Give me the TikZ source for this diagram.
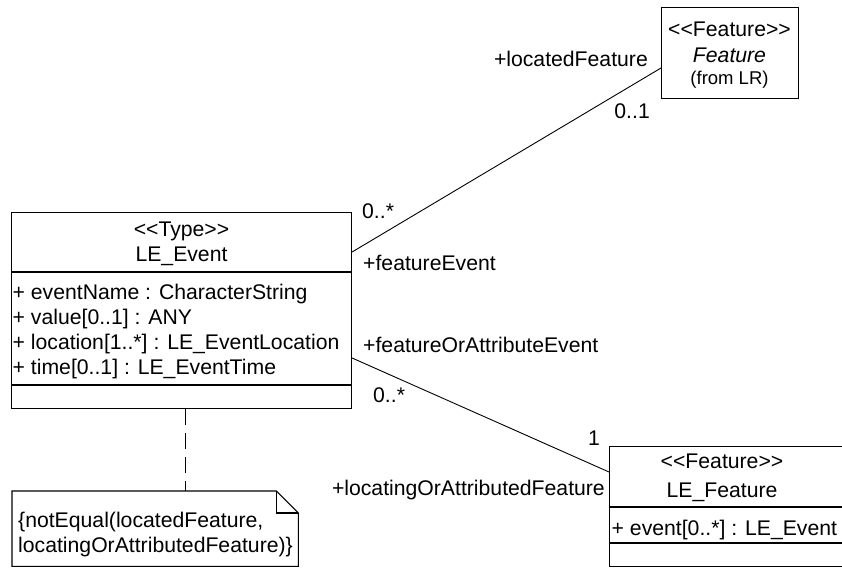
\documentclass[tikz,border=0pt]{standalone}
\usepackage{fontspec}
\setmainfont{Liberation Sans}[Ligatures=TeXOff]
\begin{document}
\begin{tikzpicture}[x=1pt,y=1pt,
  font=\fontsize{21.2}{25}\selectfont,
  box/.style={draw, rectangle, inner sep=0pt, anchor=north west, line width=1.1pt},
  sep/.style={line width=1.1pt},
  ctr/.style={inner sep=0pt, anchor=base},
  lbl/.style={inner sep=0pt, anchor=base west},
  lblr/.style={inner sep=0pt, anchor=base east},
  conn/.style={line width=0.9pt},
  dashline/.style={line width=1pt, dash pattern=on 16pt off 8pt}]
\useasboundingbox (0,0) rectangle (842,-567);
\clip (0,0) rectangle (842,-567);

% LE_Event class
\node[box, minimum width=340, minimum height=196] (ev) at (11,-212) {};
\draw[sep] ([yshift=-60]ev.north west) -- ([yshift=-60]ev.north east);
\draw[sep] ([yshift=-173]ev.north west) -- ([yshift=-173]ev.north east);
\node[ctr] (evst) at (181.5,-236) {<<Type>>};
\node[ctr] (evnm) at (181.5,-261) {LE\_Event};
\node[lbl] (ea1) at (12.5,-299) {+ eventName : CharacterString};
\node[lbl] (ea2) at (12.5,-324) {+ value[0..1] : ANY};
\node[lbl] (ea3) at (12.5,-349) {+ location[1..*] : LE\_EventLocation};
\node[lbl] (ea4) at (12.5,-374) {+ time[0..1] : LE\_EventTime};

% Feature class (from LR)
\node[box, minimum width=137, minimum height=91] (feat) at (661,-7) {};
\node[ctr] (ftst) at (729.5,-37) {<<Feature>>};
\node[ctr] (ftnm) at (729.5,-63) {\itshape Feature};
\node[ctr, font=\fontsize{18.5}{20}\selectfont] (ftfr) at (729.5,-85) {(from LR)};

% LE_Feature class
\node[box, minimum width=260, minimum height=120] (lef) at (609,-446) {};
\draw[sep] ([yshift=-61]lef.north west) -- ([yshift=-61]lef.north east);
\draw[sep] ([yshift=-97]lef.north west) -- ([yshift=-97]lef.north east);
\node[ctr] (lfst) at (722,-468) {<<Feature>>};
\node[ctr] (lfnm) at (722,-497) {LE\_Feature};
\node[lbl] (la1) at (611.5,-535) {+ event[0..*] : LE\_Event};

% Note
\node[inner sep=0pt, anchor=north west, minimum width=286, minimum height=75] (note) at (12,-491) {};
\draw[line width=1.1pt] (note.north west) -- ([xshift=-22]note.north east) -- ([yshift=-22]note.north east) -- (note.south east) -- (note.south west) -- cycle;
\draw[line width=1.1pt] ([xshift=-22]note.north east) |- ([yshift=-22]note.north east);
\node[lbl] (nt1) at (18,-527) {\{notEqual(locatedFeature,};
\node[lbl] (nt2) at (18,-552) {locatingOrAttributedFeature)\}};

% Connectors
\draw[conn] ([yshift=-40]ev.north east) -- ([yshift=-61]feat.north west);
\draw[conn] ([yshift=-146]ev.north east) -- ([yshift=-26]lef.north west);
\draw[dashline] ([xshift=4]ev.south) -- ([xshift=4]ev.south |- note.north);

% Role names and multiplicities
\node[lblr] (r1) at (648,-67) {+locatedFeature};
\node[lblr] (m1) at (650,-118) {0..1};
\node[lbl] (m2) at (362,-218) {0..*};
\node[lbl] (r2) at (363,-270) {+featureEvent};
\node[lbl] (r3) at (363,-352) {+featureOrAttributeEvent};
\node[lbl] (m3) at (373,-402) {0..*};
\node[lblr] (m4) at (600,-445) {1};
\node[lblr] (r4) at (605,-495) {+locatingOrAttributedFeature};
\end{tikzpicture}
\end{document}
